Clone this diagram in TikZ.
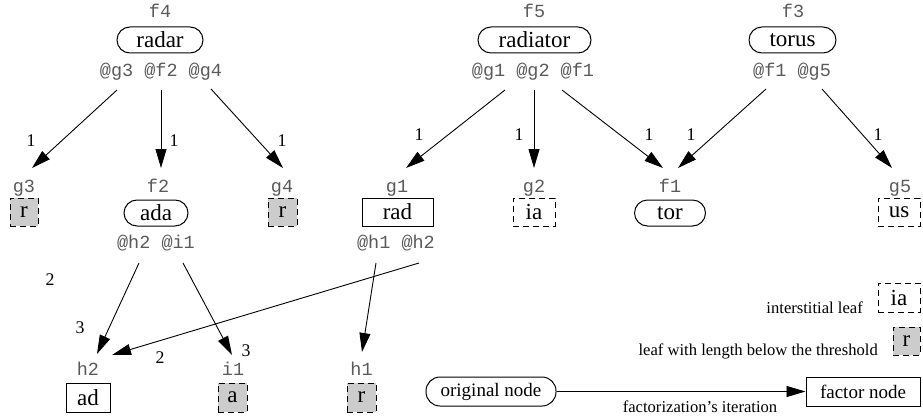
\documentclass[tikz,border=0pt]{standalone}
\usepackage{fontspec}
\setmainfont{Liberation Serif}
\setmonofont{Liberation Mono}
\usetikzlibrary{arrows.meta}
\definecolor{lblgray}{HTML}{5A5A5A}
\definecolor{leafgray}{HTML}{CCCCCC}
\tikzset{
  big/.style={font=\fontsize{23}{27}\selectfont},
  mid/.style={font=\fontsize{19}{22}\selectfont},
  rnd/.style={draw, line width=1pt, rounded corners=13pt, inner sep=0pt, big},
  sbox/.style={draw, line width=1pt, inner sep=0pt, big},
  ileaf/.style={sbox, dash pattern=on 6pt off 4pt},
  sleaf/.style={ileaf, fill=leafgray},
  idl/.style={font=\ttfamily\fontsize{18.5}{20}\selectfont, text=lblgray, inner sep=0pt, anchor=base},
  wt/.style={font=\fontsize{17.8}{19}\selectfont, inner sep=0pt},
  note/.style={font=\fontsize{16.6}{18}\selectfont, inner sep=0pt},
  arr/.style={-{Triangle[length=19pt,width=11pt]}, line width=0.9pt},
}
\begin{document}
\begin{tikzpicture}[x=1pt,y=-1pt]
\useasboundingbox (0,0) rectangle (923,420);

% ---- top level nodes
\node[idl] (lf4) at (160,18) {f4};
\node[rnd, minimum width=86, minimum height=26] (radar) at (160,40) {radar};
\node[idl] (pradar) at (161,76) {@g3 @f2 @g4};

\node[idl] (lf5) at (534,18) {f5};
\node[rnd, minimum width=113, minimum height=26] (radiator) at (534.5,40) {radiator};
\node[idl] (pradiator) at (533,76) {@g1 @g2 @f1};

\node[idl] (lf3) at (793,18) {f3};
\node[rnd, minimum width=87, minimum height=26] (torus) at (792.5,40) {torus};
\node[idl] (ptorus) at (792,76) {@f1 @g5};

% ---- second level
\node[idl] (lg3) at (24,192.5) {g3};
\node[sleaf, minimum width=28, minimum height=28] (g3) at (24,212) {r};

\node[idl] (lf2) at (158,192.5) {f2};
\node[rnd, minimum width=64, minimum height=26] (ada) at (156,213) {ada};
\node[idl] (pada) at (156,248) {@h2 @i1};

\node[idl] (lg4) at (282,192.5) {g4};
\node[sleaf, minimum width=29, minimum height=28] (g4) at (282.5,212) {r};

\node[idl] (lg1) at (397,192.5) {g1};
\node[sbox, minimum width=71, minimum height=28] (rad) at (397.5,212) {rad};
\node[idl] (prad) at (396,248) {@h1 @h2};

\node[idl] (lg2) at (534,192.5) {g2};
\node[ileaf, minimum width=42, minimum height=28] (g2) at (534,212) {ia};

\node[idl] (lf1) at (670,192.5) {f1};
\node[rnd, minimum width=71, minimum height=26] (tor) at (670,213) {tor};

\node[idl] (lg5) at (900,192.5) {g5};
\node[ileaf, minimum width=42, minimum height=28] (g5) at (899,212) {us};

% ---- third level
\node[idl] (lh2) at (88,375) {h2};
\node[sbox, minimum width=44, minimum height=29] (ad) at (88,397.5) {ad};
\node[idl] (li1) at (233,375) {i1};
\node[sleaf, minimum width=29, minimum height=29] (a) at (232.5,397.5) {a};
\node[idl] (lh1) at (361.5,375) {h1};
\node[sleaf, minimum width=29, minimum height=29] (h1) at (361.5,397.5) {r};

% ---- connector end points
\coordinate (radar-g3) at (117,90);
\coordinate (radar-f2) at (161,90);
\coordinate (radar-g4) at (211,89);
\coordinate (g3-in) at (32,168);
\coordinate (f2-in) at (161,168);
\coordinate (g4-in) at (283,168);
\coordinate (radiator-g1) at (505,90);
\coordinate (radiator-g2) at (534,90);
\coordinate (radiator-f1) at (562,90);
\coordinate (g1-in) at (406,168);
\coordinate (g2-in) at (534,168);
\coordinate (f1-inA) at (663,168);
\coordinate (torus-f1) at (766,89);
\coordinate (torus-g5) at (822,89);
\coordinate (f1-inB) at (678,168);
\coordinate (g5-in) at (892,168);
\coordinate (ada-h2) at (139,263);
\coordinate (ada-i1) at (183,263);
\coordinate (h2-inA) at (97,354);
\coordinate (i1-in) at (232,355);
\coordinate (rad-h1) at (376,263);
\coordinate (rad-h2) at (419,263);
\coordinate (h1-in) at (362,352);
\coordinate (h2-inB) at (112,355);

% ---- connectors
\draw[arr] (radar-g3) -- (g3-in);
\draw[arr] (radar-f2) -- (f2-in);
\draw[arr] (radar-g4) -- (g4-in);
\draw[arr] (radiator-g1) -- (g1-in);
\draw[arr] (radiator-g2) -- (g2-in);
\draw[arr] (radiator-f1) -- (f1-inA);
\draw[arr] (torus-f1) -- (f1-inB);
\draw[arr] (torus-g5) -- (g5-in);
\draw[arr] (ada-h2) -- (h2-inA);
\draw[arr] (ada-i1) -- (i1-in);
\draw[arr] (rad-h1) -- (h1-in);
\draw[arr] (rad-h2) -- (h2-inB);

% ---- weights
\node[wt] (w1) at (31,141) {1};
\node[wt] (w2) at (174,141) {1};
\node[wt] (w3) at (282,141) {1};
\node[wt] (w4) at (419,135) {1};
\node[wt] (w5) at (519,135) {1};
\node[wt] (w6) at (649,135) {1};
\node[wt] (w7) at (691,135) {1};
\node[wt] (w8) at (878,135) {1};
\node[wt] (w9) at (50,280) {2};
\node[wt] (w10) at (80,328) {3};
\node[wt] (w11) at (246,351) {3};
\node[wt] (w12) at (160,358) {2};

% ---- legend
\node[ileaf, minimum width=42, minimum height=29] (legia) at (899,297.5) {ia};
\node[note, anchor=base east] (legiat) at (863,313) {interstitial leaf};
\node[sleaf, minimum width=27, minimum height=28] (legr) at (906.5,341) {r};
\node[note, anchor=base east] (legrt) at (878,355) {leaf with length below the threshold};
\node[rnd, mid, rounded corners=14pt, minimum width=130, minimum height=29] (orig) at (491,391.5) {original node};
\node[sbox, mid, minimum width=114, minimum height=29] (fact) at (863,391.5) {factor node};
\draw[arr] (orig) -- (fact);
\node[note, anchor=base] (factl) at (700,412) {factorization’s iteration};
\end{tikzpicture}
\end{document}
